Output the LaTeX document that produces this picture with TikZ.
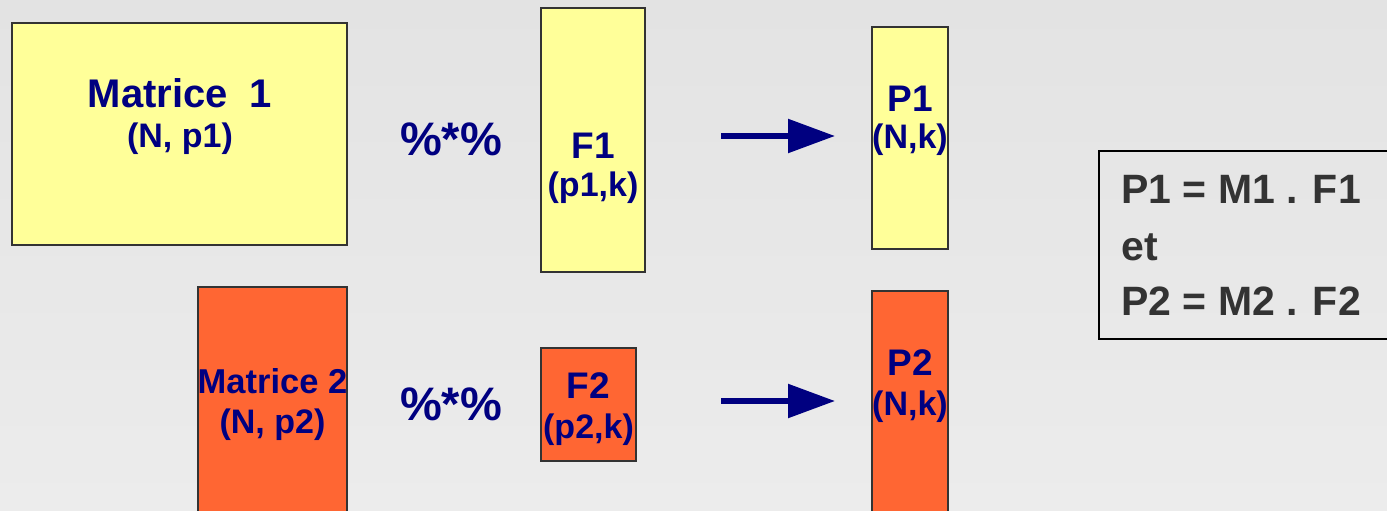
\documentclass[tikz,border=0pt]{standalone}
\usepackage{fontspec}
\setmainfont{Liberation Sans}
\usetikzlibrary{arrows.meta}
\newcommand{\myfs}[1]{\fontsize{#1}{#1}\selectfont}
\definecolor{navy}{RGB}{0,0,128}
\definecolor{paleyellow}{RGB}{255,255,153}
\definecolor{orangered}{RGB}{255,102,51}
\definecolor{darkgraytext}{RGB}{51,51,51}
\tikzset{
  mbox/.style={draw=black!80, line width=1.2pt},
  ybox/.style={mbox, fill=paleyellow},
  obox/.style={mbox, fill=orangered},
  lbl/.style={text=navy, font=\bfseries, anchor=base, inner sep=0pt},
  conn/.style={navy, line width=5.5pt, -{Triangle[length=47pt,width=33pt]}},
  eqbox/.style={draw=black, line width=2.6pt},
}
\begin{document}
\begin{tikzpicture}[x=1pt,y=-1pt]
\useasboundingbox (0,0) rectangle (1387,511);
\shade[top color={rgb,255:red,227;green,227;blue,227}, bottom color={rgb,255:red,236;green,236;blue,236}] (0,0) rectangle (1387,511);
\begin{scope}
\clip (0,0) rectangle (1387,511);
% boxes
\path[ybox] (12,23) rectangle (347,245);
\path[ybox] (541,8) rectangle (645,272);
\path[ybox] (872,27) rectangle (948,249);
\path[obox] (198,287) rectangle (347,530);
\path[obox] (541,348) rectangle (636,461);
\path[obox] (872,291) rectangle (948,530);
\path[eqbox] (1099,151) rectangle (1400,339);
\end{scope}
% labels
\node[lbl, font=\bfseries\myfs{40}] (m1t) at (180,107) {Matrice\ \ 1};
\node[lbl, font=\bfseries\myfs{34}] (m1s) at (180,147) {(N, p1)};
\node[lbl, font=\bfseries\myfs{37}] (f1t) at (593,158) {F1};
\node[lbl, font=\bfseries\myfs{34}] (f1s) at (593,196) {(p1,k)};
\node[lbl, font=\bfseries\myfs{37}] (p1t) at (910,111) {P1};
\node[lbl, font=\bfseries\myfs{34}] (p1s) at (910,148) {(N,k)};
\node[lbl, font=\bfseries\myfs{34.5}] (m2t) at (272.5,393) {Matrice 2};
\node[lbl, font=\bfseries\myfs{34}] (m2s) at (272.5,433) {(N, p2)};
\node[lbl, font=\bfseries\myfs{37}] (f2t) at (588.5,398) {F2};
\node[lbl, font=\bfseries\myfs{34}] (f2s) at (588.5,438) {(p2,k)};
\node[lbl, font=\bfseries\myfs{37}] (p2t) at (910,375) {P2};
\node[lbl, font=\bfseries\myfs{34}] (p2s) at (910,415) {(N,k)};
\node[lbl, font=\bfseries\myfs{47}] (op1) at (451,155) {\%*\%};
\node[lbl, font=\bfseries\myfs{47}] (op2) at (451,420) {\%*\%};
% equations
\node[lbl, anchor=base west, text=darkgraytext, font=\bfseries\myfs{41}] (eq1) at (1121,203) {P1 = M1 . F1};
\node[lbl, anchor=base west, text=darkgraytext, font=\bfseries\myfs{41}] (eq2) at (1121,260) {et};
\node[lbl, anchor=base west, text=darkgraytext, font=\bfseries\myfs{41}] (eq3) at (1121,315) {P2 = M2 . F2};
% arrows
\coordinate (a1s) at (721,136);
\coordinate (a1e) at (835,136);
\coordinate (a2s) at (721,401);
\coordinate (a2e) at (835,401);
\draw[conn] (a1s) -- (a1e);
\draw[conn] (a2s) -- (a2e);
\end{tikzpicture}
\end{document}
